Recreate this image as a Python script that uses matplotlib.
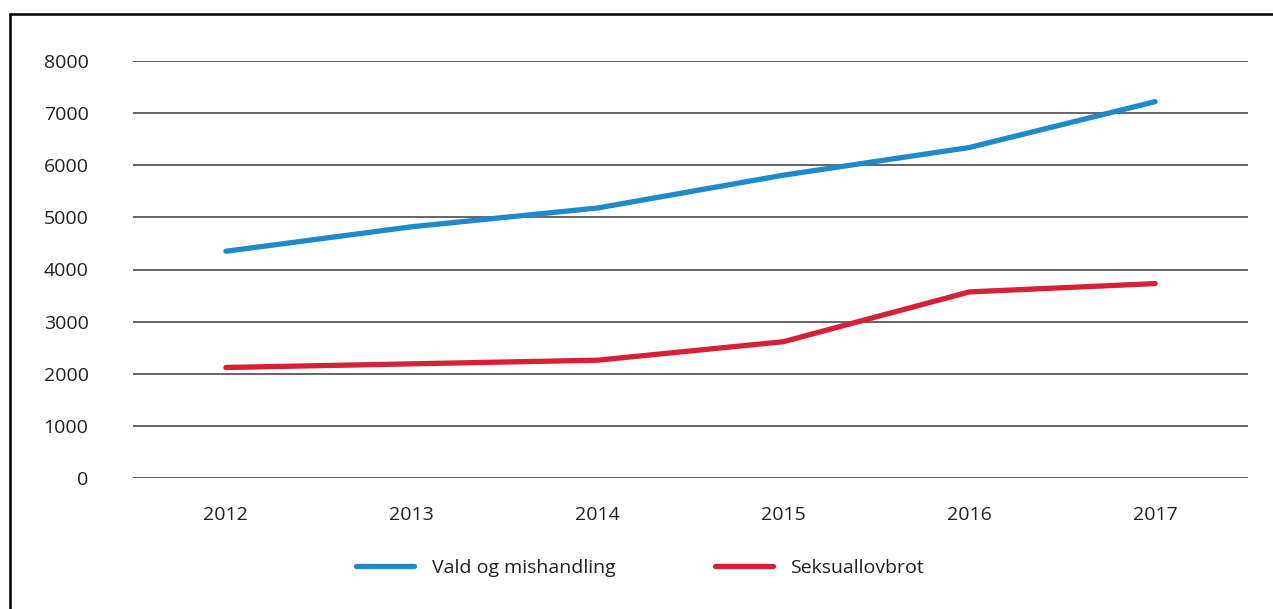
import matplotlib.pyplot as plt
from matplotlib.lines import Line2D

plt.rcParams['font.family'] = ['Open Sans', 'DejaVu Sans']

# Data
years = ['2012', '2013', '2014', '2015', '2016', '2017']
vald = [4350, 4820, 5180, 5810, 6340, 7220]
seksual = [2120, 2190, 2260, 2615, 3570, 3730]
series_names = ['Vald og mishandling', 'Seksuallovbrot']
yticks = [0, 1000, 2000, 3000, 4000, 5000, 6000, 7000, 8000]

fig = plt.figure(figsize=(12.73, 6.09), dpi=100)
ax = fig.add_axes([133 / 1273, 1 - 478 / 609, (1248 - 133) / 1273, (478 - 61) / 609])

x = range(len(years))
ax.plot(x, vald, color='#1f8ac9', lw=3.8, solid_capstyle='round', label=series_names[0])
ax.plot(x, seksual, color='#d91f35', lw=3.8, solid_capstyle='round', label=series_names[1])

ax.set_xlim(-0.5, len(years) - 0.5)
ax.set_ylim(0, 8000)
ax.set_xticks(list(x))
ax.set_xticklabels(years)
ax.set_yticks(yticks)
ax.set_yticklabels([str(v) for v in yticks])
ax.tick_params(axis='both', length=0, labelsize=14, colors='#231f20')
ax.tick_params(axis='y', pad=32)
ax.tick_params(axis='x', pad=20)
for lbl in ax.get_yticklabels():
    lbl.set_horizontalalignment('right')

ax.grid(axis='y', color='#3a3a3a', lw=1.1)
ax.set_axisbelow(True)
for s in ax.spines.values():
    s.set_visible(False)

fig.legend(loc='center', bbox_to_anchor=(640 / 1273, 1 - 568 / 609), ncol=2,
           frameon=False, fontsize=14, handlelength=3.0, handletextpad=0.9,
           columnspacing=5.1, labelcolor='#231f20')

# frame lines (top and left)
fig.add_artist(Line2D([8.6 / 1273, 1], [1 - 14 / 609, 1 - 14 / 609], color='black', lw=1.8,
                      transform=fig.transFigure, solid_capstyle='butt'))
fig.add_artist(Line2D([9.5 / 1273, 9.5 / 1273], [0, 1 - 13 / 609], color='black', lw=1.8,
                      transform=fig.transFigure, solid_capstyle='butt'))

fig.savefig('out.png', dpi=100)
